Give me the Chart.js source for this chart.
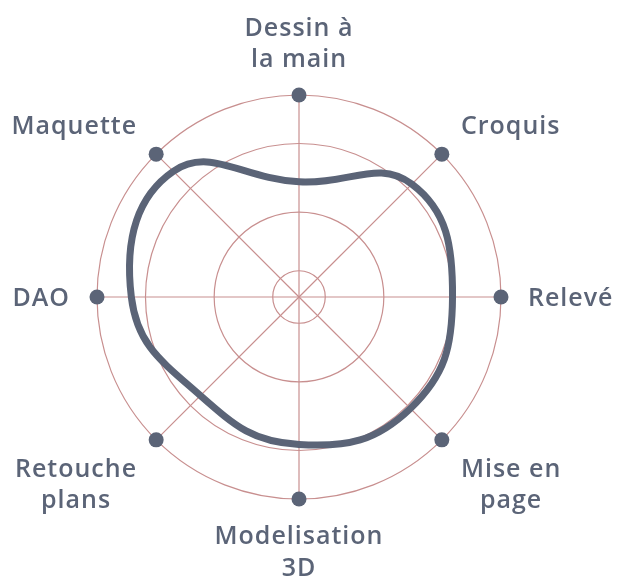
<!DOCTYPE html>
<html>
<head>
<meta charset="utf-8">
<script src="https://cdn.jsdelivr.net/npm/chart.js@4/dist/chart.umd.min.js"></script>
<style>
html,body{margin:0;padding:0;background:#ffffff;}
#wrap{width:619px;height:580px;position:relative;}
</style>
</head>
<body>
<div id="wrap"><canvas id="c" width="619" height="580"></canvas></div>
<script>
const categories = [
  ["Dessin à", "la main"],
  "Croquis",
  "Relevé",
  ["Mise en", "page"],
  ["Modelisation", "3D"],
  ["Retouche", "plans"],
  "DAO",
  "Maquette"
];
const skillValues = [57, 79, 76, 78, 73, 69, 83, 88];
const axisEndValues = [100, 100, 100, 100, 100, 100, 100, 100];
const tickValues = [0, 13, 42, 76, 100];

const ink = '#5b6477';
const gridColor = '#c88f8f';
const labelFont = { family: 'Open Sans', size: 25, weight: 550 };
const labelSpacing = '1px';
const lineStep = 31.5;
const labelGap = 27;

const centeredPointLabels = {
  id: 'centeredPointLabels',
  afterDraw(chart) {
    const scale = chart.scales.r;
    const ctx = chart.ctx;
    ctx.save();
    ctx.font = labelFont.weight + ' ' + labelFont.size + 'px "' + labelFont.family + '"';
    if ('letterSpacing' in ctx) ctx.letterSpacing = labelSpacing;
    ctx.fillStyle = ink;
    ctx.textAlign = 'center';
    ctx.textBaseline = 'alphabetic';
    const capH = ctx.measureText('H').actualBoundingBoxAscent;
    chart.data.labels.forEach((lab, i) => {
      const lines = Array.isArray(lab) ? lab : [lab];
      const p = scale.getPointPosition(i, scale.drawingArea + labelGap);
      const dx = Math.cos(p.angle), dy = Math.sin(p.angle);
      const w = Math.max(...lines.map(l => ctx.measureText(l).width));
      let cx = p.x;
      if (dx > 0.05) cx = p.x + w / 2; else if (dx < -0.05) cx = p.x - w / 2;
      const blockH = capH + (lines.length - 1) * lineStep;
      let top;
      if (dy < -0.05) top = p.y - blockH - 1;
      else if (dy > 0.05) top = p.y;
      else top = p.y - blockH / 2;
      lines.forEach((l, k) => ctx.fillText(l, cx, top + capH + k * lineStep));
    });
    ctx.restore();
  }
};

new Chart(document.getElementById('c'), {
  type: 'radar',
  data: {
    labels: categories,
    datasets: [
      {
        data: skillValues,
        borderColor: ink,
        backgroundColor: 'rgba(0,0,0,0)',
        borderWidth: 7,
        fill: false,
        tension: 0.45,
        pointRadius: 0,
        pointHoverRadius: 0,
        pointBorderWidth: 0,
        pointBackgroundColor: 'rgba(0,0,0,0)',
        pointBorderColor: 'rgba(0,0,0,0)'
      },
      {
        data: axisEndValues,
        showLine: false,
        borderColor: 'rgba(0,0,0,0)',
        backgroundColor: 'rgba(0,0,0,0)',
        borderWidth: 0,
        pointRadius: 7.5,
        pointHoverRadius: 7.5,
        pointBackgroundColor: ink,
        pointBorderColor: ink,
        pointBorderWidth: 0,
        fill: false
      }
    ]
  },
  plugins: [centeredPointLabels],
  options: {
    responsive: false,
    animation: false,
    devicePixelRatio: 1,
    events: [],
    layout: { padding: { top: 95, bottom: 81, left: 0, right: 20 } },
    plugins: { legend: { display: false }, tooltip: { enabled: false } },
    scales: {
      r: {
        min: 0,
        max: 100,
        afterBuildTicks: (scale) => { scale.ticks = tickValues.map(v => ({ value: v })); },
        ticks: { display: false },
        grid: { color: gridColor, lineWidth: 1.2, circular: true },
        angleLines: { display: true, color: gridColor, lineWidth: 1.2 },
        pointLabels: { display: false }
      }
    }
  }
});
</script>
</body>
</html>
